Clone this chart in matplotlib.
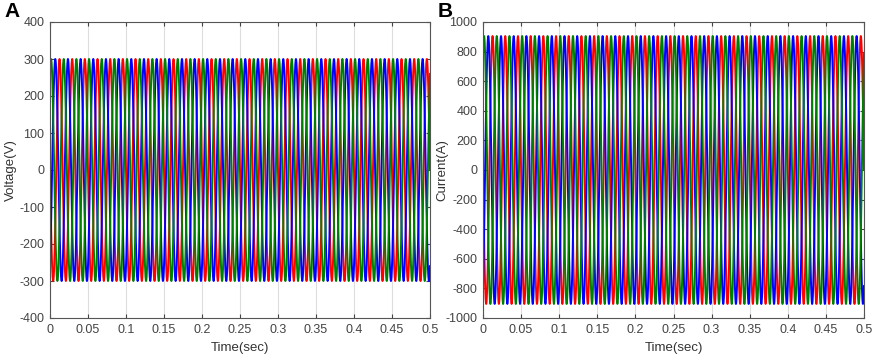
import numpy as np
import matplotlib
matplotlib.use('Agg')
import matplotlib.pyplot as plt

plt.rcParams['font.family'] = ['Liberation Sans', 'DejaVu Sans']
plt.rcParams['axes.unicode_minus'] = False

# Waveform parameters
FREQ_HZ = 60
T_END = 0.5
PHASE_COLORS = ['red', 'blue', 'green']
PHASE_DEG = [180, -60, 60]          # red, blue, green phase at t=0
VOLTAGE_PEAK = 300
CURRENT_PEAK = 905

x_ticks = [0, 0.05, 0.1, 0.15, 0.2, 0.25, 0.3, 0.35, 0.4, 0.45, 0.5]
x_labels = ['0', '0.05', '0.1', '0.15', '0.2', '0.25', '0.3', '0.35', '0.4', '0.45', '0.5']
v_ticks = [-400, -300, -200, -100, 0, 100, 200, 300, 400]
i_ticks = [-1000, -800, -600, -400, -200, 0, 200, 400, 600, 800, 1000]

t = np.linspace(0, T_END, 6000)


def draw_panel(ax, peak, yticks, ylabel, letter, lab_x):
    for color, ph in zip(PHASE_COLORS, PHASE_DEG):
        y = peak * np.sin(2 * np.pi * FREQ_HZ * t + np.deg2rad(ph))
        ax.plot(t, y, color=color, linewidth=1.4)
    ax.set_xlim(0, T_END)
    ax.set_ylim(yticks[0], yticks[-1])
    ax.set_xticks(x_ticks)
    ax.set_xticklabels(x_labels)
    ax.set_yticks(yticks)
    ax.grid(axis='x', color='#dddddd', linewidth=0.8)
    ax.set_axisbelow(True)
    ax.tick_params(direction='in', length=3, labelsize=9, colors='#444444', pad=4,
                   top=True, right=True, labeltop=False, labelright=False)
    for s in ax.spines.values():
        s.set_color('#555555')
        s.set_linewidth(0.8)
    ax.set_xlabel('Time(sec)', fontsize=9.5, color='#333333', labelpad=5)
    ax.set_ylabel(ylabel, fontsize=9.5, color='#333333')
    ax.yaxis.set_label_coords(lab_x, 0.5)
    ax.text(-0.12, 1.035, letter, transform=ax.transAxes, fontsize=15,
            fontweight='bold', ha='left', va='center')


fig = plt.figure(figsize=(8.72, 3.58), dpi=100)
W, H = 872, 358
ax1 = fig.add_axes([50 / W, 1 - 318 / H, 380 / W, 296 / H])
ax2 = fig.add_axes([483 / W, 1 - 318 / H, 381 / W, 296 / H])

draw_panel(ax1, VOLTAGE_PEAK, v_ticks, 'Voltage(V)', 'A', -0.087)
draw_panel(ax2, CURRENT_PEAK, i_ticks, 'Current(A)', 'B', -0.092)

fig.savefig('out.png', dpi=100)
